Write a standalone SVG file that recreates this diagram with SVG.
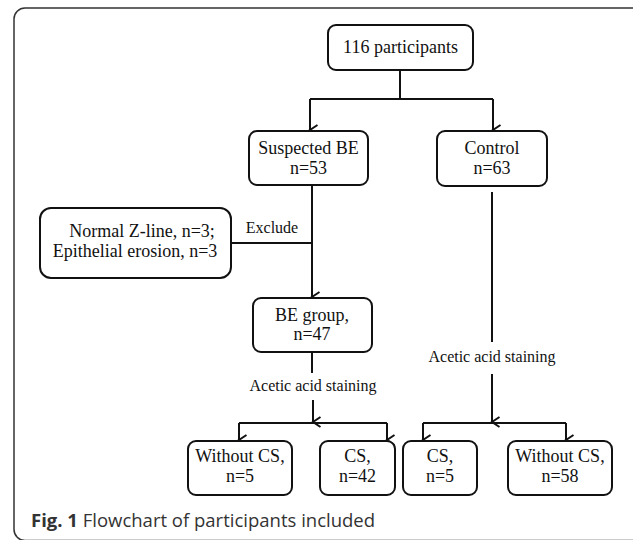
<svg xmlns="http://www.w3.org/2000/svg" width="633" height="540" viewBox="0 0 633 540">
<style>
.box{fill:#fff;stroke:#111;stroke-width:2}
.t{font-family:"Liberation Serif","Times New Roman",serif;font-size:18px;fill:#111;text-anchor:middle}
.s{font-family:"Liberation Serif","Times New Roman",serif;font-size:16px;fill:#111;text-anchor:middle}
.c{fill:none;stroke:#111;stroke-width:2}
.cap{font-family:"Open Sans","Noto Sans",sans-serif;font-size:18.5px;fill:#333}
</style>
<defs>
<marker id="arr" markerUnits="userSpaceOnUse" markerWidth="14" markerHeight="12" refX="6" refY="10" orient="auto-start-reverse" viewBox="0 0 12 12">
<path d="M1,2.5 L6,10 L11,2.5" fill="none" stroke="#111" stroke-width="2"/>
</marker>
</defs>
<rect x="14" y="8" width="640" height="532.5" rx="11" fill="none" stroke="#333" stroke-width="1.5"/>
<g id="connectors">
<path class="c" d="M400,70 V99"/>
<path class="c" d="M310,99 H493"/>
<path class="c" d="M310,99 V130" marker-end="url(#arr)"/>
<path class="c" d="M493,99 V130" marker-end="url(#arr)"/>
<path class="c" d="M312,185 V297" marker-end="url(#arr)"/>
<path class="c" d="M231,243 H312"/>
<text class="s" x="272" y="233">Exclude</text>
<path class="c" d="M312,352 V373"/>
<text class="s" x="313" y="391">Acetic acid staining</text>
<path class="c" d="M313,400 V422" marker-end="url(#arr)"/>
<path class="c" d="M239,423 H387"/>
<path class="c" d="M239,423 V440" marker-end="url(#arr)"/>
<path class="c" d="M387,423 V440" marker-end="url(#arr)"/>
<path class="c" d="M492,192 V342"/>
<text class="s" x="492" y="362">Acetic acid staining</text>
<path class="c" d="M492,374 V422" marker-end="url(#arr)"/>
<path class="c" d="M423,423 H566"/>
<path class="c" d="M423,423 V440" marker-end="url(#arr)"/>
<path class="c" d="M566,423 V440" marker-end="url(#arr)"/>
</g>
<g id="n-total">
<rect class="box" x="328" y="25" width="145" height="45" rx="8"/>
<text class="t" x="400.5" y="53">116 participants</text>
</g>
<g id="n-suspected">
<rect class="box" x="249" y="131" width="119" height="54" rx="8"/>
<text class="t" x="308.5" y="154">Suspected BE</text>
<text class="t" x="308.5" y="174">n=53</text>
</g>
<g id="n-control">
<rect class="box" x="437" y="131" width="110" height="55" rx="8"/>
<text class="t" x="492" y="154">Control</text>
<text class="t" x="492" y="174">n=63</text>
</g>
<g id="n-exclude">
<rect class="box" x="40" y="208" width="191" height="70" rx="11"/>
<text class="t" x="142" y="237">Normal Z-line, n=3;</text>
<text class="t" x="135" y="257">Epithelial erosion, n=3</text>
</g>
<g id="n-begroup">
<rect class="box" x="253" y="298" width="119" height="54" rx="8"/>
<text class="t" x="312" y="321">BE group,</text>
<text class="t" x="312" y="340">n=47</text>
</g>
<g id="n-be-without">
<rect class="box" x="188" y="441" width="104" height="54" rx="8"/>
<text class="t" x="240" y="462">Without CS,</text>
<text class="t" x="240" y="482">n=5</text>
</g>
<g id="n-be-cs">
<rect class="box" x="320" y="441" width="75" height="54" rx="8"/>
<text class="t" x="357.5" y="462">CS,</text>
<text class="t" x="357.5" y="482">n=42</text>
</g>
<g id="n-ctl-cs">
<rect class="box" x="403" y="441" width="74" height="54" rx="8"/>
<text class="t" x="440" y="462">CS,</text>
<text class="t" x="440" y="482">n=5</text>
</g>
<g id="n-ctl-without">
<rect class="box" x="508" y="441" width="104" height="54" rx="8"/>
<text class="t" x="560" y="462">Without CS,</text>
<text class="t" x="560" y="482">n=58</text>
</g>
<text class="cap" x="31" y="527"><tspan font-weight="bold">Fig. 1</tspan> Flowchart of participants included</text>
</svg>
